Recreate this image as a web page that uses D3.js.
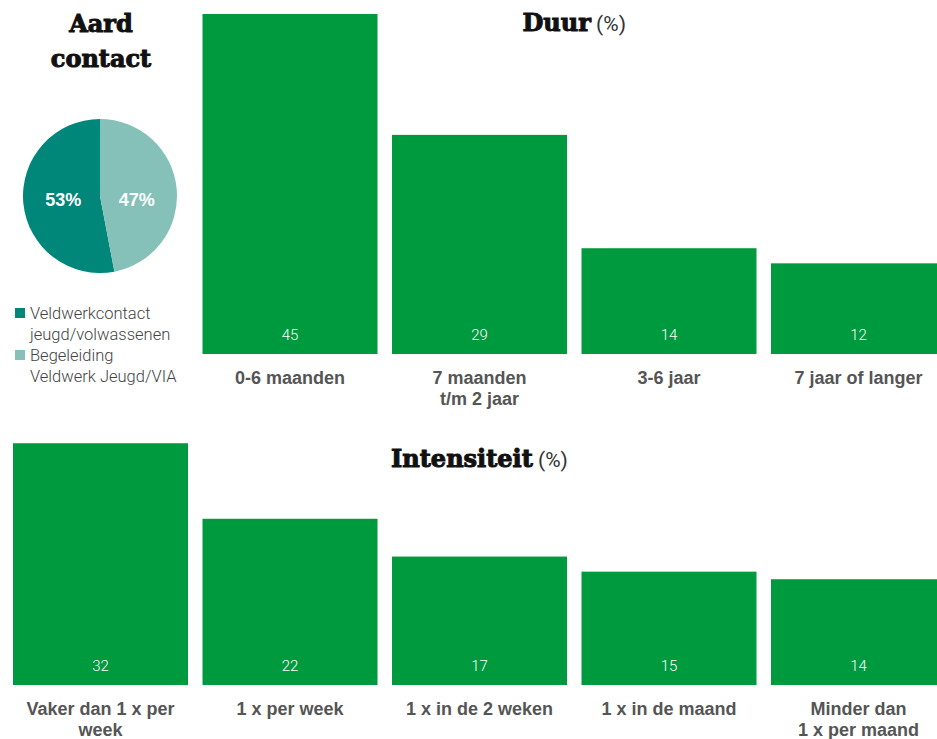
<!DOCTYPE html>
<html>
<head>
<meta charset="utf-8">
<script src="https://cdn.jsdelivr.net/npm/d3@7"></script>
<style>
  body { margin: 0; background: #fff; }
  .title { font-family: "DejaVu Serif", serif; font-weight: bold; font-size: 24px; fill: #111; stroke: #111; stroke-width: 1px; }
  .unit { font-family: Roboto, "Liberation Sans", sans-serif; font-weight: 400; font-size: 21px; fill: #333; stroke: none; }
  .value { font-family: Roboto, "Liberation Sans", sans-serif; font-weight: 300; font-size: 15px; fill: #fff; }
  .cat { font-family: "Liberation Sans", Arial, sans-serif; font-weight: bold; font-size: 18px; fill: #555; }
  .legend { font-family: Roboto, "Liberation Sans", sans-serif; font-weight: 300; font-size: 16.5px; fill: #444; }
  .pie-label { font-family: "Liberation Sans", Arial, sans-serif; font-weight: bold; font-size: 18px; fill: #fff; }
</style>
</head>
<body>
<div id="graphic"></div>
<script>
// data
var pieLabels = ["Veldwerkcontact\njeugd/volwassenen", "Begeleiding\nVeldwerk Jeugd/VIA"];
var pieValues = [53, 47];
var pieColors = ["#00877a", "#85c1b8"];

var duurCategories = ["0-6 maanden", "7 maanden\nt/m 2 jaar", "3-6 jaar", "7 jaar of langer"];
var duurValues = [45, 29, 14, 12];

var intensiteitCategories = ["Vaker dan 1 x per\nweek", "1 x per week", "1 x in de 2 weken", "1 x in de maand", "Minder dan\n1 x per maand"];
var intensiteitValues = [32, 22, 17, 15, 14];

var width = 937;
var height = 739;
var barColor = "#009a3e";
var lineHeight = 21;

var svg = d3.select("#graphic")
  .append("svg")
  .attr("width", width)
  .attr("height", height);

// five slots shared by both bar charts
var xScale = d3.scaleBand()
  .domain(d3.range(5))
  .range([13, 946])
  .paddingInner(0.0765)
  .paddingOuter(0);

function renderBars(categories, values, offset, bottom, title, titleY) {
  var yScale = d3.scaleLinear()
    .domain([0, 45])
    .range([bottom, bottom - 340]);

  var data = values.map((v, i) => ({ value: v, category: categories[i], slot: i + offset }));

  var g = svg.append("g");

  g.selectAll("rect")
    .data(data)
    .join("rect")
    .attr("x", d => xScale(d.slot))
    .attr("y", d => yScale(d.value))
    .attr("width", xScale.bandwidth())
    .attr("height", d => yScale(0) - yScale(d.value))
    .attr("fill", barColor);

  g.selectAll("text.value")
    .data(data)
    .join("text")
    .attr("class", "value")
    .attr("x", d => xScale(d.slot) + xScale.bandwidth() / 2)
    .attr("y", yScale(0) - 14)
    .attr("text-anchor", "middle")
    .text(d => d.value);

  var cats = g.selectAll("text.cat")
    .data(data)
    .join("text")
    .attr("class", "cat")
    .attr("text-anchor", "middle")
    .attr("y", yScale(0) + 30);

  cats.each(function(d) {
    var cx = xScale(d.slot) + xScale.bandwidth() / 2;
    d3.select(this).selectAll("tspan")
      .data(d.category.split("\n"))
      .join("tspan")
      .attr("x", cx)
      .attr("dy", (l, i) => i == 0 ? 0 : lineHeight)
      .text(l => l);
  });

  // title centred over the chart
  var left = xScale(offset);
  var right = xScale(offset + values.length - 1) + xScale.bandwidth();
  var t = g.append("text")
    .attr("x", (left + right) / 2)
    .attr("y", titleY)
    .attr("text-anchor", "middle");
  t.append("tspan").attr("class", "title").text(title);
  t.append("tspan").attr("class", "unit").text(" (%)");
}

function renderPie() {
  var cx = 100, cy = 196, r = 77;

  var pie = d3.pie()
    .sort(null)
    .startAngle(0)
    .endAngle(-2 * Math.PI);

  var arc = d3.arc().innerRadius(0).outerRadius(r);
  var labelArc = d3.arc().innerRadius(r * 0.48).outerRadius(r * 0.48);

  var g = svg.append("g")
    .attr("transform", "translate(" + cx + "," + cy + ")");

  var arcs = pie(pieValues);

  g.selectAll("path")
    .data(arcs)
    .join("path")
    .attr("d", arc)
    .attr("fill", (d, i) => pieColors[i]);

  g.selectAll("text")
    .data(arcs)
    .join("text")
    .attr("class", "pie-label")
    .attr("text-anchor", "middle")
    .attr("x", d => labelArc.centroid(d)[0])
    .attr("y", 10)
    .text(d => d.data + "%");

  var title = svg.append("text")
    .attr("class", "title")
    .attr("text-anchor", "middle")
    .attr("x", 101)
    .attr("y", 32);
  title.append("tspan").attr("x", 101).text("Aard");
  title.append("tspan").attr("x", 101).attr("dy", 35).text("contact");

  var legend = svg.append("g");
  pieLabels.forEach((label, i) => {
    var y = 308 + i * 42;
    legend.append("rect")
      .attr("x", 15)
      .attr("y", y)
      .attr("width", 10)
      .attr("height", 10)
      .attr("fill", pieColors[i]);
    var text = legend.append("text")
      .attr("class", "legend")
      .attr("y", y + 11);
    text.selectAll("tspan")
      .data(label.split("\n"))
      .join("tspan")
      .attr("x", 30)
      .attr("dy", (l, j) => j == 0 ? 0 : 21)
      .text(l => l);
  });
}

renderPie();
renderBars(duurCategories, duurValues, 1, 354, "Duur", 31);
renderBars(intensiteitCategories, intensiteitValues, 0, 685, "Intensiteit", 467);
</script>
</body>
</html>
